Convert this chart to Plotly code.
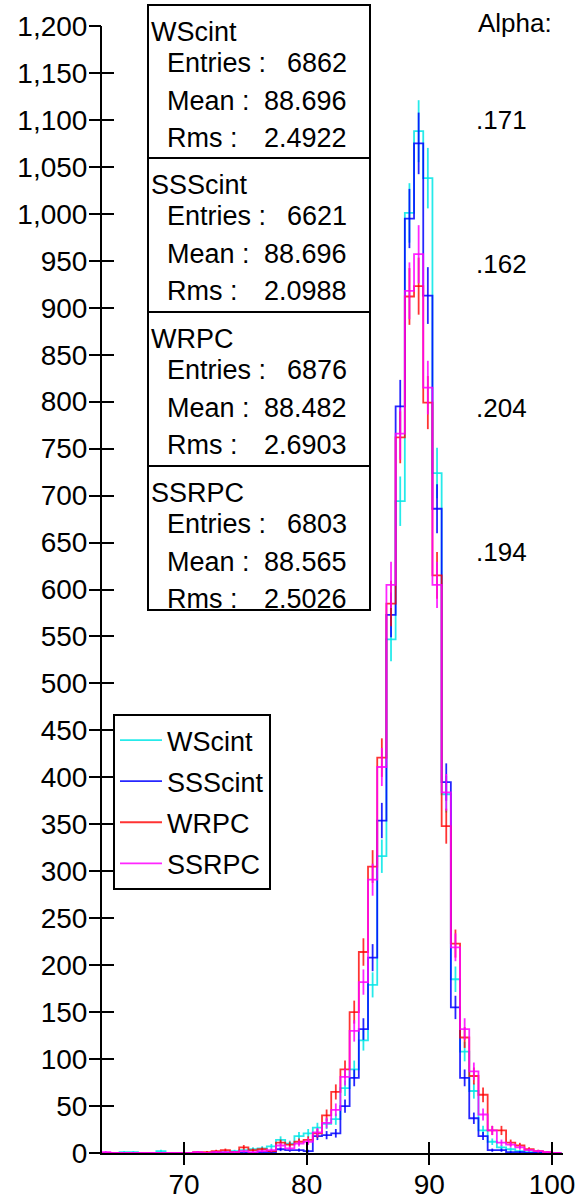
import numpy as np
import plotly.graph_objects as go

# ---------------- data ----------------
BIN_START = 63.25
BIN_WIDTH = 0.75
N_BINS = 50

wscint = [0, 0, 1, 1, 0, 0, 2, 0, 0, 0,
          0, 0, 1, 1, 2, 3, 4, 5, 7, 14,
          10, 18, 21, 27, 31, 36, 69, 89, 120, 179,
          316, 547, 694, 1001, 1088, 1038, 724, 382, 185, 108,
          66, 24, 12, 6, 4, 2, 1, 1, 0, 0]
ssscint = [0, 0, 0, 0, 0, 0, 0, 0, 0, 0,
           0, 0, 0, 0, 0, 0, 0, 1, 1, 4,
           3, 3, 2, 18, 19, 21, 50, 80, 132, 208,
           354, 573, 795, 995, 1075, 913, 686, 395, 155, 80,
           37, 18, 3, 3, 1, 1, 0, 0, 0, 0]
wrpc = [0, 0, 0, 0, 0, 0, 0, 0, 0, 0,
        1, 1, 2, 3, 1, 6, 3, 4, 2, 11,
        9, 12, 14, 21, 40, 65, 89, 150, 214, 305,
        421, 585, 762, 912, 923, 799, 615, 348, 223, 123,
        82, 62, 24, 24, 11, 8, 4, 2, 1, 0]
ssrpc = [1, 0, 0, 0, 0, 0, 0, 0, 0, 0,
         1, 0, 1, 1, 1, 2, 1, 2, 3, 8,
         5, 10, 12, 22, 32, 46, 81, 130, 182, 291,
         411, 605, 766, 918, 957, 815, 605, 384, 219, 132,
         87, 41, 24, 11, 9, 6, 3, 2, 1, 0]

series_names = ["WScint", "SSScint", "WRPC", "SSRPC"]
series_values = [wscint, ssscint, wrpc, ssrpc]
series_colors = ["rgba(0,230,230,0.85)", "rgba(0,0,255,0.85)",
                 "rgba(255,0,0,0.8)", "rgba(255,0,255,0.85)"]

entries = ["6862", "6621", "6876", "6803"]
means = ["88.696", "88.696", "88.482", "88.565"]
rmss = ["2.4922", "2.0988", "2.6903", "2.5026"]
alphas = [".171", ".162", ".204", ".194"]

x_ticks = [70, 80, 90, 100]
y_ticks = list(range(0, 1201, 50))

# ---------------- layout geometry ----------------
W, H = 579, 1202
ML, MR, MT, MB = 102, 16, 26, 49
PW = W - ML - MR
PH = H - MT - MB
X_RANGE = [63.32, 100.89]
Y_RANGE = [0, 1200]
FONT = "Liberation Sans, Arial, Helvetica, sans-serif"


def pxx(xp):
    return (xp - ML) / PW


def pxy(yp):
    return (H - MB - yp) / PH


edges = BIN_START + BIN_WIDTH * np.arange(N_BINS + 1)
centers = 0.5 * (edges[:-1] + edges[1:])

fig = go.Figure()

for name, vals, col in zip(series_names, series_values, series_colors):
    vals = np.array(vals, dtype=float)
    ys = np.append(vals, vals[-1])
    fig.add_trace(go.Scatter(
        x=edges, y=ys, mode="lines", line=dict(shape="hv", color=col, width=1.8),
        name=name, legendgroup=name, cliponaxis=False, hoverinfo="skip"))
    fig.add_trace(go.Scatter(
        x=centers, y=vals, mode="markers", marker=dict(size=0.1, color=col, opacity=0),
        error_y=dict(type="data", array=np.sqrt(vals), color=col, thickness=1.8, width=0),
        showlegend=False, legendgroup=name, hoverinfo="skip"))

# empty traces hosting overlay axes that carry the crossing tick marks
fig.add_trace(go.Scatter(x=[], y=[], xaxis="x2", yaxis="y2", showlegend=False, hoverinfo="skip"))
fig.add_trace(go.Scatter(x=[], y=[], xaxis="x3", yaxis="y3", showlegend=False, hoverinfo="skip"))

shapes = []
annotations = []
box_tops = [5, 158, 312, 466]
box_bottoms = [158, 312, 466, 610]
for i in range(4):
    top, bot = box_tops[i], box_bottoms[i]
    shapes.append(dict(type="rect", xref="paper", yref="paper",
                       x0=pxx(148), x1=pxx(370), y0=pxy(bot), y1=pxy(top),
                       line=dict(color="black", width=2), fillcolor="white", layer="above"))
    annotations.append(dict(text=series_names[i], xref="paper", yref="paper",
                            x=pxx(149), y=pxy(top + 27), xanchor="left", yanchor="middle",
                            showarrow=False, font=dict(size=27, family=FONT, color="black")))
    labels = ["Entries :", "Mean :", "Rms :"]
    values = [entries[i], means[i], rmss[i]]
    offs = [58, 96, 133]
    for lab, val, off in zip(labels, values, offs):
        annotations.append(dict(text=lab, xref="paper", yref="paper",
                                x=pxx(165), y=pxy(top + off), xanchor="left", yanchor="middle",
                                showarrow=False, font=dict(size=27, family=FONT, color="black")))
        annotations.append(dict(text=val, xref="paper", yref="paper",
                                x=pxx(349), y=pxy(top + off), xanchor="right", yanchor="middle",
                                showarrow=False, font=dict(size=27, family=FONT, color="black")))

annotations.append(dict(text="Alpha:", xref="paper", yref="paper",
                        x=pxx(476), y=pxy(23), xanchor="left", yanchor="middle",
                        showarrow=False, font=dict(size=26, family=FONT, color="black")))
alpha_y = [120, 264, 408, 552]
for a, ay in zip(alphas, alpha_y):
    annotations.append(dict(text=a, xref="paper", yref="paper",
                            x=pxx(474), y=pxy(ay), xanchor="left", yanchor="middle",
                            showarrow=False, font=dict(size=26, family=FONT, color="black")))

common_x = dict(range=X_RANGE, tickvals=x_ticks, tickwidth=2, tickcolor="black",
                showgrid=False, zeroline=False, automargin=False)
common_y = dict(range=Y_RANGE, tickvals=y_ticks, tickwidth=2, tickcolor="black",
                showgrid=False, zeroline=False, automargin=False)

fig.update_layout(
    width=W, height=H, autosize=False,
    margin=dict(l=ML, r=MR, t=MT, b=MB, pad=0, autoexpand=False),
    paper_bgcolor="white", plot_bgcolor="white",
    font=dict(family=FONT, size=28, color="black"),
    showlegend=True,
    legend=dict(x=pxx(113), y=pxy(714), xanchor="left", yanchor="top",
                bordercolor="black", borderwidth=2, bgcolor="white",
                font=dict(size=27, family=FONT, color="black"),
                tracegroupgap=3, itemwidth=42),
    xaxis=dict(**common_x, ticks="outside", ticklen=5, showline=True, linecolor="black",
               linewidth=2, tickfont=dict(size=28)),
    yaxis=dict(**common_y, tickformat=",", ticks="outside", ticklen=7, showline=True,
               linecolor="black", linewidth=2, tickfont=dict(size=28)),
    xaxis2=dict(**common_x, overlaying="x", anchor="y2", side="bottom", ticks="inside",
                ticklen=11, showticklabels=False, showline=False),
    yaxis2=dict(**common_y, overlaying="y", anchor="x2", side="left", ticks="inside",
                ticklen=12, showticklabels=False, showline=False),
    xaxis3=dict(**common_x, overlaying="x", anchor="y3", side="bottom", ticks="outside",
                ticklen=11, showticklabels=False, showline=False),
    yaxis3=dict(**common_y, overlaying="y", anchor="x3", side="left", ticks="outside",
                ticklen=12, showticklabels=False, showline=False),
    shapes=shapes, annotations=annotations,
)

fig.write_html("out.html")
